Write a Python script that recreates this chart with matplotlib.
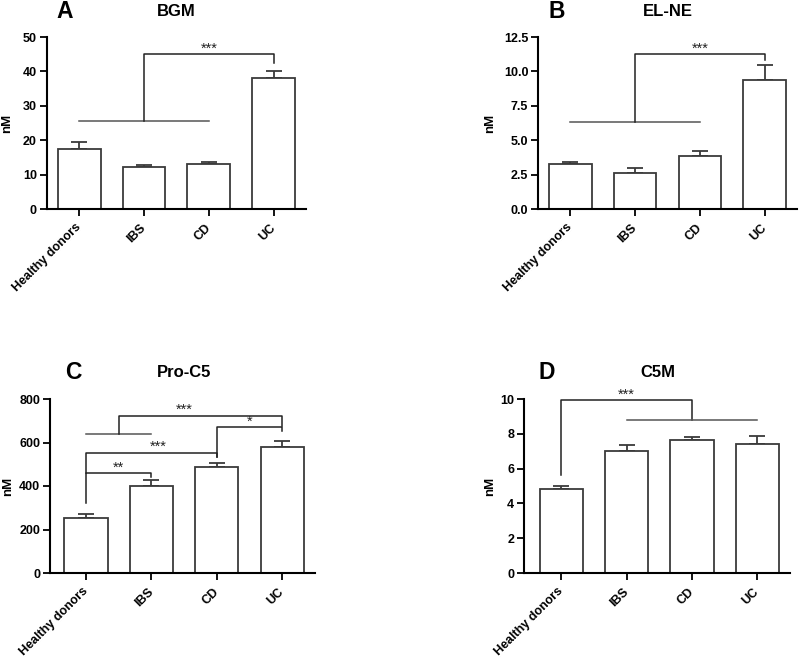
import numpy as np
import matplotlib.pyplot as plt

plt.rcParams['font.family'] = ['Liberation Sans', 'DejaVu Sans']
plt.rcParams['font.weight'] = 'bold'

# groups on the x axis
groups = ['Healthy donors', 'IBS', 'CD', 'UC']

# mean and upper error (SEM) per group
bgm_mean = [17.5, 12.3, 13.2, 38.0]
bgm_err = [2.0, 0.6, 0.6, 2.0]
elne_mean = [3.3, 2.65, 3.85, 9.4]
elne_err = [0.15, 0.35, 0.35, 1.1]
proc5_mean = [251, 398, 486, 578]
proc5_err = [21, 31, 19, 27]
c5m_mean = [4.81, 7.0, 7.63, 7.42]
c5m_err = [0.19, 0.38, 0.2, 0.43]

# significance brackets: (x points, y points, is group line)
bgm_lines = [([0, 2], [25.5, 25.5], True),
             ([1, 1, 3, 3], [25.5, 45, 45, 42.3], False)]
bgm_stars = [(2, 45, '***')]
elne_lines = [([0, 2], [6.35, 6.35], True),
              ([1, 1, 3, 3], [6.35, 11.25, 11.25, 10.85], False)]
elne_stars = [(2, 11.25, '***')]
proc5_lines = [([0, 0, 1, 1], [320, 458, 458, 443], False),
               ([0, 0, 2, 2], [458, 554, 554, 535], False),
               ([0, 1], [641, 641], True),
               ([0.5, 0.5, 3, 3], [641, 723, 723, 674], False),
               ([2, 2, 3, 3], [535, 671, 671, 651], False)]
proc5_stars = [(0.5, 458, '**'), (1.1, 554, '***'), (1.5, 723, '***'), (2.5, 671, '*')]
c5m_lines = [([0, 0, 2, 2], [5.63, 9.92, 9.92, 8.8], False),
             ([1, 3], [8.8, 8.8], True)]
c5m_stars = [(1.0, 9.92, '***')]

fig = plt.figure(figsize=(8, 6.58), dpi=100)

def px_axes(l, r, b, t):
    return fig.add_axes([l / 800, 1 - b / 658, (r - l) / 800, (b - t) / 658])

def panel(ax, mean, err, ymax, yticks, fmt, lines, stars, xlo, lab_x):
    x = np.arange(len(groups))
    ax.bar(x, mean, width=0.66, color='white', edgecolor='#3a3a3a', linewidth=1.3, zorder=2)
    ax.errorbar(x, mean, yerr=[np.zeros(len(err)), err], fmt='none', ecolor='#3a3a3a',
                elinewidth=1.3, capsize=6, capthick=1.3, zorder=1)
    for xs, ys, grp in lines:
        ax.plot(xs, ys, color='#555555' if grp else '#222222', lw=1.1, clip_on=False)
    for sx, sy, s in stars:
        ax.annotate(s, (sx, sy), xytext=(0, -1), textcoords='offset points',
                    ha='center', va='bottom', fontsize=10.5, fontweight='normal', color='#222222')
    ax.set_xlim(xlo, 3.5)
    ax.set_ylim(0, ymax)
    ax.set_yticks(yticks)
    ax.set_yticklabels([fmt % v for v in yticks], fontsize=9, fontweight='bold')
    ax.set_xticks(x)
    ax.set_xticklabels(groups, rotation=45, ha='right', va='center', rotation_mode='anchor',
                       fontsize=9, fontweight='bold')
    ax.spines['top'].set_visible(False)
    ax.spines['right'].set_visible(False)
    ax.spines['left'].set_linewidth(1.5)
    ax.spines['bottom'].set_linewidth(1.5)
    ax.tick_params(direction='out', length=5, width=1.3, pad=2)
    ax.tick_params(axis='x', pad=7)
    ax.set_ylabel('nM', fontsize=9.5, fontweight='bold', va='center')
    ax.yaxis.set_label_coords(lab_x, 0.5)

axA = px_axes(46.7, 306, 209, 37)
panel(axA, bgm_mean, bgm_err, 50, [0, 10, 20, 30, 40, 50], '%d', bgm_lines, bgm_stars, -0.5, -0.153)
axB = px_axes(538, 797, 209, 37)
panel(axB, elne_mean, elne_err, 12.5, [0, 2.5, 5, 7.5, 10, 12.5], '%.1f', elne_lines, elne_stars, -0.5, -0.186)
axC = px_axes(50, 315, 573, 399)
panel(axC, proc5_mean, proc5_err, 800, [0, 200, 400, 600, 800], '%d', proc5_lines, proc5_stars, -0.55, -0.158)
axD = px_axes(524, 790, 573, 399)
panel(axD, c5m_mean, c5m_err, 10, [0, 2, 4, 6, 8, 10], '%d', c5m_lines, c5m_stars, -0.57, -0.128)

# panel letters and titles
for lx, ly, letter in [(65, 12, 'A'), (557, 12, 'B'), (73, 373, 'C'), (547, 373, 'D')]:
    fig.text(lx / 800, 1 - ly / 658, letter, fontsize=16.5, fontweight='bold', ha='center', va='center')
for tx, ty, title in [(176, 12, 'BGM'), (668, 12, 'EL-NE'), (184, 373, 'Pro-C5'), (658, 373, 'C5M')]:
    fig.text(tx / 800, 1 - ty / 658, title, fontsize=12, fontweight='bold', ha='center', va='center')

fig.savefig('out.png', dpi=100)
